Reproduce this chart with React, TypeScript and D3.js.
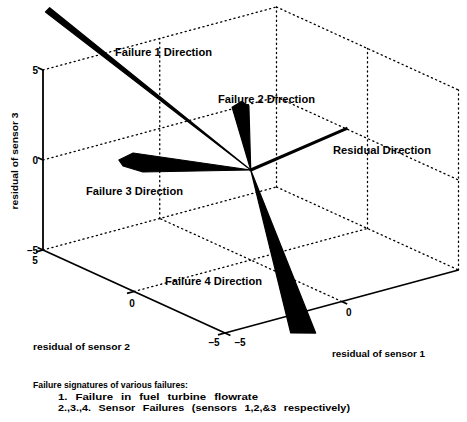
import React from 'react';
import * as d3 from 'd3';

// Residual-space box: each sensor residual spans [-5, 5]
const axisDomain: [number, number] = [-5, 5];
const sensor1Ticks = [-5, 0];
const sensor2Ticks = [5, 0, -5];
const sensor3Ticks = [5, 0, -5];
const gridValues = [0];

// Boundary vectors [s1, s2, s3] of each failure signature cone
const failure1Cone = [
  [0, 11.05, 3.92],
  [0, 11.28, 3.58],
];
const failure2Cone = [
  [-0.8, 0, 3.77],
  [-0.4, 0, 3.95],
  [-0.08, 0, 3.6],
];
const failure3Cone = [
  [-2.16, 3.69, 0],
  [-2.96, 3.45, 0],
  [-3.2, 2.91, 0],
  [-3.02, 2.05, 0],
];
const failure4Cone = [
  [1.71, 0, -9.65],
  [2.78, 0, -10.03],
];
const residualDirection = [5.08, 1.2, 0];

const failureCones = [failure1Cone, failure2Cone, failure3Cone, failure4Cone];
const failureLabels = ['Failure 1 Direction', 'Failure 2 Direction', 'Failure 3 Direction', 'Failure 4 Direction'];
const residualLabel = 'Residual Direction';

const axisTitles = ['residual of sensor 1', 'residual of sensor 2', 'residual of sensor 3'];
const captionLines = [
  'Failure signatures of various failures:',
  '1. Failure in fuel turbine flowrate',
  '2.,3.,4. Sensor Failures (sensors 1,2,&3 respectively)',
];

const W = 467;
const H = 422;
const FONT = "'Liberation Sans', Arial, Helvetica, sans-serif";

// Oblique projection: front-bottom corner (-5,-5,-5) sits at (225,333)
const base = { x: 225, y: 333 };
const s1x = d3.scaleLinear().domain(axisDomain).range([0, 233.5]);
const s1y = d3.scaleLinear().domain(axisDomain).range([0, -63]);
const s2x = d3.scaleLinear().domain(axisDomain).range([0, -182]);
const s2y = d3.scaleLinear().domain(axisDomain).range([0, -83]);
const s3y = d3.scaleLinear().domain(axisDomain).range([0, -180]);

function project(p: number[]): [number, number] {
  return [base.x + s1x(p[0]) + s2x(p[1]), base.y + s1y(p[0]) + s2y(p[1]) + s3y(p[2])];
}

const line = d3.line<number[]>().x((p) => project(p)[0]).y((p) => project(p)[1]);

const lo = axisDomain[0];
const hi = axisDomain[1];

// Dotted box edges and grid lines on the back walls and floor
const dottedSegments: number[][][] = [
  [[lo, hi, hi], [hi, hi, hi]],
  [[hi, hi, lo], [hi, hi, hi]],
  [[hi, hi, hi], [hi, lo, hi]],
  [[hi, lo, lo], [hi, lo, hi]],
  [[lo, hi, lo], [hi, hi, lo]],
  [[hi, hi, lo], [hi, lo, lo]],
];
gridValues.forEach((v) => {
  dottedSegments.push([[lo, hi, v], [hi, hi, v]]);
  dottedSegments.push([[v, hi, lo], [v, hi, hi]]);
  dottedSegments.push([[hi, hi, v], [hi, lo, v]]);
  dottedSegments.push([[hi, v, lo], [hi, v, hi]]);
  dottedSegments.push([[v, lo, lo], [v, hi, lo]]);
  dottedSegments.push([[lo, v, lo], [hi, v, lo]]);
});

const solidAxes: number[][][] = [
  [[lo, hi, lo], [lo, hi, hi]],
  [[lo, hi, lo], [lo, lo, lo]],
  [[lo, lo, lo], [hi, lo, lo]],
];

const origin = [0, 0, 0];

const fmt = (t: number) => (t < 0 ? '\u2013' + Math.abs(t) : String(t));

export default function App() {
  const o = project(origin);
  return (
    <svg
      width={W}
      height={H}
      viewBox={`0 0 ${W} ${H}`}
      style={{ position: 'absolute', left: 0, top: 0, background: '#fff' }}
      fontFamily={FONT}
      fontWeight="bold"
    >
      <rect x={0} y={0} width={W} height={H} fill="#fff" />
      <g fill="none" stroke="#000" strokeWidth={1.3} strokeDasharray="1.2 3.4" strokeLinecap="round">
        {dottedSegments.map((s, i) => (
          <path key={i} d={line(s) ?? ''} />
        ))}
      </g>
      <g fill="none" stroke="#000" strokeWidth={1.8}>
        {solidAxes.map((s, i) => (
          <path key={i} d={line(s) ?? ''} />
        ))}
        {sensor3Ticks.map((t) => (
          <path key={'z' + t} d={line([[lo, hi, t], [lo, hi + 0.3, t]]) ?? ''} />
        ))}
        {sensor2Ticks.map((t) => (
          <path key={'y' + t} d={line([[lo, t, lo], [lo - 0.3, t, lo]]) ?? ''} />
        ))}
        {sensor1Ticks.map((t) => (
          <path key={'x' + t} d={line([[t, lo, lo], [t, lo - 0.3, lo]]) ?? ''} />
        ))}
      </g>

      {/* failure signature cones */}
      <g fill="#000" stroke="#000" strokeWidth={1.2} strokeLinejoin="round">
        {failureCones.map((cone, i) => (
          <path key={i} d={line([origin, ...cone, origin]) + 'Z'} />
        ))}
      </g>
      <path d={line([origin, residualDirection]) ?? ''} stroke="#000" strokeWidth={3} fill="none" />
      <circle cx={o[0]} cy={o[1]} r={1.5} fill="#000" />

      {/* direction labels */}
      <g fontSize={11} fill="#000">
        <text x={115} y={56} textLength={97} lengthAdjust="spacingAndGlyphs">{failureLabels[0]}</text>
        <text x={218} y={103} textLength={97} lengthAdjust="spacingAndGlyphs">{failureLabels[1]}</text>
        <text x={86} y={195} textLength={97} lengthAdjust="spacingAndGlyphs">{failureLabels[2]}</text>
        <text x={165} y={285} textLength={97} lengthAdjust="spacingAndGlyphs">{failureLabels[3]}</text>
        <text x={333} y={154} textLength={98} lengthAdjust="spacingAndGlyphs">{residualLabel}</text>
      </g>

      {/* tick labels */}
      <g fontSize={10} fill="#000">
        {sensor3Ticks.map((t) => {
          const [x, y] = project([lo, hi, t]);
          return (
            <text key={'zl' + t} x={x - 5} y={y + 3.5} textAnchor="end">
              {fmt(t)}
            </text>
          );
        })}
        {sensor2Ticks.map((t) => {
          const [x, y] = project([lo, t, lo]);
          const dx = t === hi ? -8 : t === lo ? -11 : -2;
          const dy = t === hi ? 14 : t === lo ? 13 : 15;
          return (
            <text key={'yl' + t} x={x + dx} y={y + dy} textAnchor="middle">
              {fmt(t)}
            </text>
          );
        })}
        {sensor1Ticks.map((t) => {
          const [x, y] = project([t, lo, lo]);
          const dx = t === lo ? 15 : 7;
          const dy = t === lo ? 13 : 14;
          return (
            <text key={'xl' + t} x={x + dx} y={y + dy} textAnchor="middle">
              {fmt(t)}
            </text>
          );
        })}
      </g>

      {/* axis titles */}
      <g fontSize={9} fill="#000">
        <text x={332} y={357} textLength={93} lengthAdjust="spacingAndGlyphs">{axisTitles[0]}</text>
        <text x={33} y={350} textLength={97} lengthAdjust="spacingAndGlyphs">{axisTitles[1]}</text>
        <text
          transform="translate(18,161) rotate(-90)"
          textAnchor="middle"
          textLength={97}
          lengthAdjust="spacingAndGlyphs"
        >
          {axisTitles[2]}
        </text>
      </g>

      {/* caption */}
      <g fontSize={9.5} fill="#000">
        <text x={33} y={388} textLength={155} lengthAdjust="spacingAndGlyphs">{captionLines[0]}</text>
        <text x={58} y={400} wordSpacing={4} textLength={200} lengthAdjust="spacingAndGlyphs">{captionLines[1]}</text>
        <text x={58} y={411} wordSpacing={4} textLength={292} lengthAdjust="spacingAndGlyphs">{captionLines[2]}</text>
      </g>
    </svg>
  );
}
